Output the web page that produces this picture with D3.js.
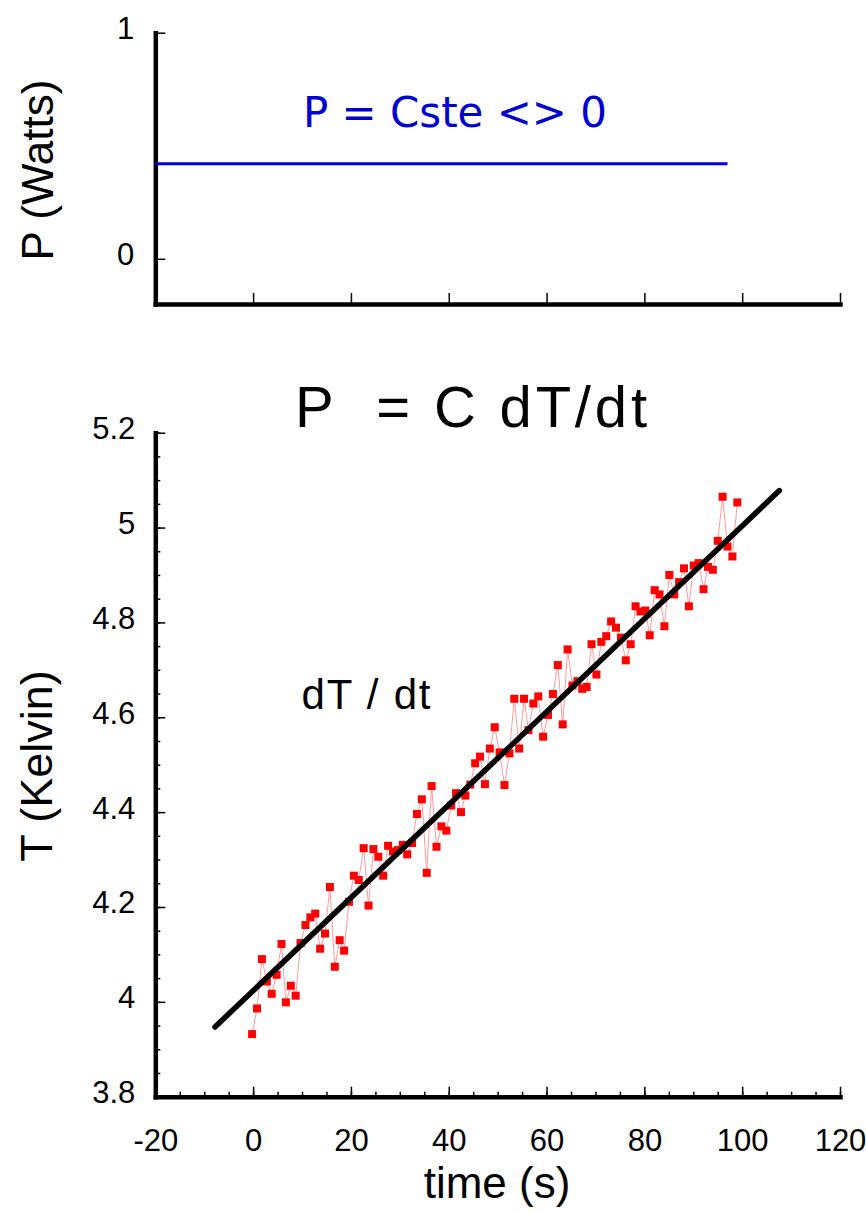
<!DOCTYPE html>
<html>
<head>
<meta charset="utf-8">
<script src="https://cdn.jsdelivr.net/npm/d3@7"></script>
<style>
body { margin: 0; background: #fff; }
svg { display: block; font-family: "Liberation Sans", Arial, Helvetica, sans-serif; }
.axis .domain { stroke: #000; stroke-width: 4.5; stroke-linecap: square; }
.axis .tick line { stroke: #000; stroke-width: 1.5; }
.minor .domain { display: none; }
</style>
</head>
<body>
<svg id="chart" width="866" height="1213"></svg>
<script>
var timeSec = [-0.2, 0.8, 1.8, 2.8, 3.8, 4.8, 5.8, 6.7, 7.7, 8.7,
  9.7, 10.7, 11.7, 12.7, 13.7, 14.7, 15.7, 16.7, 17.7, 18.6,
  19.6, 20.6, 21.6, 22.6, 23.6, 24.6, 25.6, 26.6, 27.6, 28.6,
  29.6, 30.6, 31.5, 32.5, 33.5, 34.5, 35.5, 36.5, 37.5, 38.5,
  39.5, 40.5, 41.5, 42.5, 43.4, 44.4, 45.4, 46.4, 47.4, 48.4,
  49.4, 50.4, 51.4, 52.4, 53.4, 54.4, 55.4, 56.3, 57.3, 58.3,
  59.3, 60.3, 61.3, 62.3, 63.3, 64.3, 65.3, 66.3, 67.3, 68.2,
  69.2, 70.2, 71.2, 72.2, 73.2, 74.2, 75.2, 76.2, 77.2, 78.2,
  79.2, 80.2, 81.1, 82.1, 83.1, 84.1, 85.1, 86.1, 87.1, 88.1,
  89.1, 90.1, 91.1, 92.1, 93.0, 94.0, 95.0, 96.0, 97.0, 98.0, 99.0];

var tempK = [3.932, 3.986, 4.090, 4.043, 4.017, 4.057, 4.122, 3.999, 4.034, 4.013,
  4.124, 4.162, 4.178, 4.186, 4.112, 4.144, 4.242, 4.074, 4.130, 4.108,
  4.211, 4.266, 4.257, 4.324, 4.203, 4.322, 4.306, 4.266, 4.329, 4.317,
  4.320, 4.331, 4.311, 4.335, 4.396, 4.427, 4.272, 4.455, 4.327, 4.370,
  4.361, 4.414, 4.440, 4.400, 4.435, 4.458, 4.503, 4.517, 4.459, 4.534,
  4.579, 4.526, 4.457, 4.524, 4.639, 4.534, 4.639, 4.573, 4.629, 4.644,
  4.559, 4.605, 4.649, 4.710, 4.585, 4.743, 4.667, 4.676, 4.660, 4.664,
  4.754, 4.690, 4.759, 4.771, 4.802, 4.789, 4.768, 4.720, 4.754, 4.834,
  4.823, 4.825, 4.773, 4.868, 4.859, 4.792, 4.900, 4.859, 4.885, 4.914,
  4.834, 4.920, 4.925, 4.870, 4.917, 4.911, 4.972, 5.065, 4.960, 4.939, 5.053];

// Linear fit dT/dt (end points)
var fitTime = [-7.8, 107.6];
var fitTemp = [3.947, 5.078];

// Constant power
var powerTime = [-20, 97];
var powerWatts = [0.42, 0.42];

// Tick values and labels
var timeTicks = [-20, 0, 20, 40, 60, 80, 100, 120];
var timeLabels = ["-20", "0", "20", "40", "60", "80", "100", "120"];
var topTimeTicks = [0, 20, 40, 60, 80, 100, 120];
var tempTicks = [3.8, 4.0, 4.2, 4.4, 4.6, 4.8, 5.0, 5.2];
var tempLabels = ["3.8", "4", "4.2", "4.4", "4.6", "4.8", "5", "5.2"];
var powerTicks = [0, 1];
var powerLabels = ["0", "1"];

var tickFont = "Liberation Sans, Arial, Helvetica, sans-serif";
var tickSize = 31;

var svg = d3.select("svg#chart");

var axisX = 155.3;

// style tick labels of an axis group
function styleLabels(g, dy) {
  var t = g.attr("font-size", tickSize).attr("font-family", tickFont)
    .selectAll(".tick text")
    .attr("fill", "#000")
    .style("font-size", tickSize + "px")
    .style("font-family", tickFont);
  if (dy) t.attr("dy", dy);
}

// Shared time scale
var x = d3.scaleLinear().domain([-20, 120]).range([axisX, 840]);

// ---- Top panel: power ----
var yP = d3.scaleLinear().domain([-0.2, 1]).range([304, 32.7]);

svg.append("g")
  .attr("class", "axis")
  .attr("transform", "translate(0,304)")
  .call(d3.axisBottom(x).tickValues(topTimeTicks).tickSize(-11).tickSizeOuter(0).tickFormat(""));

var gP = svg.append("g")
  .attr("class", "axis")
  .attr("transform", "translate(" + axisX + ",0)")
  .call(d3.axisLeft(yP).tickValues(powerTicks).tickSize(-10).tickSizeOuter(0).tickPadding(21)
    .tickFormat((d, i) => powerLabels[i]));
styleLabels(gP, "0.19em");

svg.append("path")
  .datum(d3.zip(powerTime, powerWatts))
  .attr("fill", "none")
  .attr("stroke", "#0000d0")
  .attr("stroke-width", 3)
  .attr("d", d3.line().x(d => x(d[0])).y(d => yP(d[1])));

svg.append("text")
  .attr("x", 455)
  .attr("y", 127)
  .attr("text-anchor", "middle")
  .attr("font-family", "'DejaVu Sans', sans-serif")
  .attr("font-size", 42)
  .attr("fill", "#0000d0")
  .attr("textLength", 304)
  .attr("lengthAdjust", "spacingAndGlyphs")
  .text("P = Cste <> 0");

svg.append("text")
  .attr("transform", "translate(53,170) rotate(-90)")
  .attr("text-anchor", "middle")
  .attr("font-size", 44)
  .text("P (Watts)");

// ---- Bottom panel: temperature ----
var yT = d3.scaleLinear().domain([3.8, 5.2]).range([1096.7, 432.7]);

// minor ticks
svg.append("g")
  .attr("class", "axis minor")
  .attr("transform", "translate(0,1096.7)")
  .call(d3.axisBottom(x).tickValues(d3.range(-20, 121, 5)).tickSize(-5).tickFormat(""));

svg.append("g")
  .attr("class", "axis minor")
  .attr("transform", "translate(" + axisX + ",0)")
  .call(d3.axisLeft(yT).tickValues(d3.range(0, 29).map(i => 3.8 + i * 0.05)).tickSize(-5).tickFormat(""));

var gX = svg.append("g")
  .attr("class", "axis")
  .attr("transform", "translate(0,1096.7)")
  .call(d3.axisBottom(x).tickValues(timeTicks).tickSize(-10).tickSizeOuter(0).tickPadding(32)
    .tickFormat((d, i) => timeLabels[i]));
styleLabels(gX);

var gT = svg.append("g")
  .attr("class", "axis")
  .attr("transform", "translate(" + axisX + ",0)")
  .call(d3.axisLeft(yT).tickValues(tempTicks).tickSize(-10).tickSizeOuter(0).tickPadding(20)
    .tickFormat((d, i) => tempLabels[i]));
styleLabels(gT, "0.19em");

// data connecting line
var pts = d3.zip(timeSec, tempK);
svg.append("path")
  .datum(pts)
  .attr("fill", "none")
  .attr("stroke", "#ff9a9a")
  .attr("stroke-width", 1)
  .attr("d", d3.line().x(d => x(d[0])).y(d => yT(d[1])));

var mk = 8;
svg.selectAll("rect.pt")
  .data(pts)
  .enter().append("rect")
  .attr("class", "pt")
  .attr("x", d => x(d[0]) - mk / 2)
  .attr("y", d => yT(d[1]) - mk / 2)
  .attr("width", mk)
  .attr("height", mk)
  .attr("fill", "#ff0000");

// fit line
svg.append("path")
  .datum(d3.zip(fitTime, fitTemp))
  .attr("fill", "none")
  .attr("stroke", "#000")
  .attr("stroke-width", 5.5)
  .attr("stroke-linecap", "round")
  .attr("d", d3.line().x(d => x(d[0])).y(d => yT(d[1])));

// titles
svg.append("text")
  .attr("x", 471)
  .attr("y", 427)
  .attr("text-anchor", "middle")
  .attr("font-size", 58)
  .attr("textLength", 352)
  .attr("lengthAdjust", "spacing")
  .style("white-space", "pre")
  .text("P  = C dT/dt");

svg.append("text")
  .attr("x", 366)
  .attr("y", 709)
  .attr("text-anchor", "middle")
  .attr("font-size", 42)
  .attr("textLength", 129)
  .attr("lengthAdjust", "spacing")
  .text("dT / dt");

svg.append("text")
  .attr("transform", "translate(52,766) rotate(-90)")
  .attr("text-anchor", "middle")
  .attr("font-size", 45)
  .text("T (Kelvin)");

svg.append("text")
  .attr("x", 497)
  .attr("y", 1198)
  .attr("text-anchor", "middle")
  .attr("font-size", 44)
  .text("time (s)");
</script>
</body>
</html>
